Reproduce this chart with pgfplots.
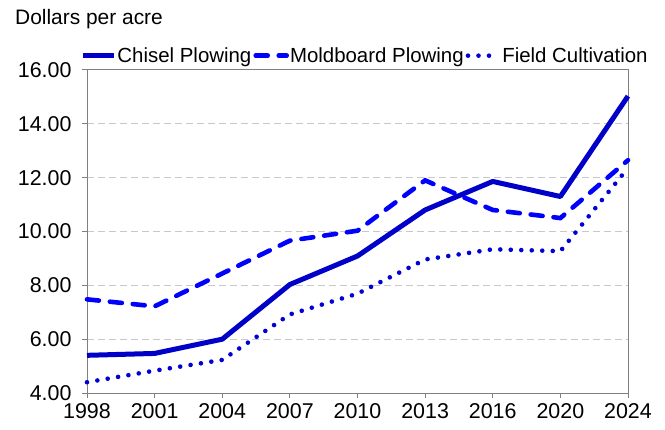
\documentclass[border=0pt]{standalone}
\usepackage{pgfplots}
\pgfplotsset{compat=1.18}
\usepackage{fontspec}
\setmainfont{Liberation Sans}
\definecolor{solidblue}{RGB}{0,0,200}
\definecolor{dashblue}{RGB}{0,0,255}
\definecolor{dotblue}{RGB}{0,0,215}
\definecolor{gridgray}{RGB}{200,200,200}
\definecolor{axgray}{RGB}{128,128,128}
\begin{document}
\begin{tikzpicture}
\begin{axis}[
  scale only axis,
  width=541bp, height=323bp,
  xmin=0, xmax=8, ymin=4, ymax=16,
  xtick={0,...,8},
  xticklabels={1998,2001,2004,2007,2010,2013,2016,2020,2024},
  ytick={4,6,...,16},
  yticklabel={\pgfmathprintnumber[fixed,fixed zerofill,precision=2]{\tick}},
  /pgf/number format/assume math mode=true,
  ymajorgrids,
  grid style={gridgray, dashed, line width=1bp, dash pattern=on 7bp off 4bp},
  axis line style={axgray, line width=1bp},
  tick style={axgray, line width=1bp},
  tick align=outside,
  major tick length=5bp,
  xtick pos=bottom, ytick pos=left,
  ticklabel style={font=\fontsize{21.5}{25}\selectfont, text=black},
  xticklabel style={yshift=-2bp},
  yticklabel style={xshift=-7bp},
  legend style={at={(0.513,1.0)}, anchor=south, yshift=4bp, draw=none, fill=none,
    font=\fontsize{20.5}{24}\selectfont, legend columns=3, inner sep=0pt,
    nodes={inner xsep=1bp},
    /tikz/every even column/.append style={column sep=1bp}},
  legend image code/.code={\draw[#1] (0bp,0bp) -- (31bp,0bp);},
  legend cell align=left,
  clip=false,
]
\addplot[solidblue, line width=5bp, line join=round] coordinates {
(0,5.40) (1,5.47) (2,6.00) (3,8.03) (4,9.09) (5,10.80) (6,11.86) (7,11.30) (8,15.03)};
\addlegendentry{Chisel Plowing}
\addplot[dashblue, line width=4.6bp, line cap=round, dash pattern=on 12bp off 11bp] coordinates {
(0,7.48) (1,7.22) (2,8.44) (3,9.66) (4,10.03) (5,11.90) (6,10.80) (7,10.50) (8,12.65)};
\addlegendentry{Moldboard Plowing}
\addplot[dotblue, line width=4.6bp, line cap=round, dash pattern=on 0bp off 10.5bp] coordinates {
(0,4.40) (1,4.83) (2,5.23) (3,6.92) (4,7.69) (5,8.96) (6,9.34) (7,9.27) (8,12.36)};
\addlegendentry{Field Cultivation}
\end{axis}
\node[anchor=west, font=\fontsize{21}{25}\selectfont, inner sep=0pt] at ([shift={(-72bp,51bp)}]current axis.north west) {Dollars per acre};
\pgfresetboundingbox
\path[use as bounding box] ([shift={(-87bp,-36bp)}]current axis.south west) rectangle ([shift={(37bp,70bp)}]current axis.north east);
\end{tikzpicture}
\end{document}
